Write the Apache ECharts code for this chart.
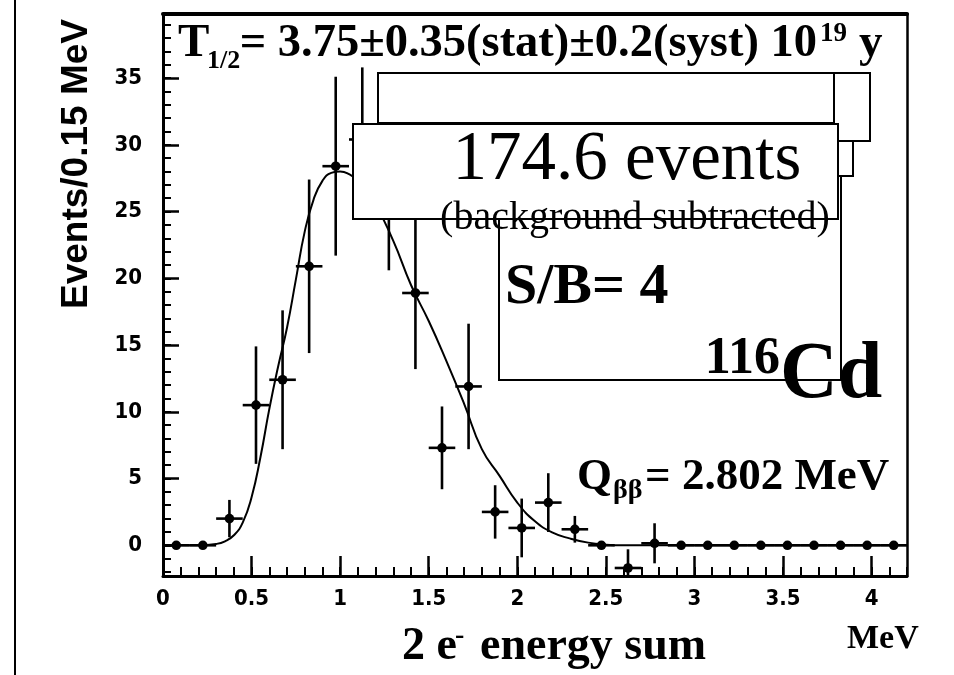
<!DOCTYPE html>
<html>
<head>
<meta charset="UTF-8">
<title>116Cd two-neutrino double beta spectrum</title>
<script src="https://cdn.jsdelivr.net/npm/echarts@6/dist/echarts.min.js"></script>
<style>
    html, body { margin: 0; padding: 0; background: #fff; }
    #chart { width: 954px; height: 675px; }
</style>
</head>
<body>
<div id="chart"></div>
<script>
// measured points: bin centres (MeV), events per 0.15 MeV, stat. errors
const binCenters = [0.075, 0.225, 0.375, 0.525, 0.675, 0.825, 0.975, 1.125, 1.275, 1.425,
                    1.575, 1.725, 1.875, 2.025, 2.175, 2.325, 2.475, 2.625, 2.775, 2.925,
                    3.075, 3.225, 3.375, 3.525, 3.675, 3.825, 3.975, 4.125];
const counts = [0, 0, 2.0, 10.5, 12.4, 20.9, 28.4, 30.4, 25.8, 18.9,
                7.3, 11.9, 2.5, 1.3, 3.2, 1.2, 0, -1.7, 0.15, 0,
                0, 0, 0, 0, 0, 0, 0, 0];
const countErrors = [0, 0, 1.4, 4.4, 5.2, 6.5, 6.7, 5.4, 5.2, 5.7,
                     3.1, 4.7, 2.0, 2.2, 2.2, 1.0, 0, 1.4, 1.5, 0,
                     0, 0, 0, 0, 0, 0, 0, 0];
const binHalfWidth = 0.075;

// fitted 2nu2beta shape
const fitEnergy = [0, 0.1, 0.2, 0.3, 0.35, 0.4, 0.45, 0.5, 0.55, 0.6,
                   0.65, 0.7, 0.75, 0.8, 0.85, 0.9, 0.95, 1.0, 1.05, 1.1,
                   1.2, 1.3, 1.4, 1.5, 1.6, 1.7, 1.8, 1.9, 2.0, 2.1,
                   2.2, 2.3, 2.4, 2.5, 2.6, 3.0, 3.5, 4.0, 4.2];
const fitCounts = [0, 0, 0, 0.1, 0.3, 0.75, 1.7, 3.6, 6.6, 10.2,
                   13.4, 16.3, 19.9, 23.5, 25.9, 27.3, 27.9, 28.0, 27.8, 27.3,
                   25.5, 22.8, 19.5, 16.8, 13.8, 10.6, 7.2, 5.2, 3.2, 1.8,
                   0.95, 0.5, 0.2, 0.05, 0, 0, 0, 0, 0];

// axis ticks
const xMajorTicks = [0, 0.5, 1, 1.5, 2, 2.5, 3, 3.5, 4];
const xMinorTicks = [0, 0.1, 0.2, 0.3, 0.4, 0.5, 0.6, 0.7, 0.8, 0.9, 1, 1.1, 1.2, 1.3, 1.4,
                     1.5, 1.6, 1.7, 1.8, 1.9, 2, 2.1, 2.2, 2.3, 2.4, 2.5, 2.6, 2.7, 2.8, 2.9,
                     3, 3.1, 3.2, 3.3, 3.4, 3.5, 3.6, 3.7, 3.8, 3.9, 4, 4.1, 4.2];
const yMajorTicks = [0, 5, 10, 15, 20, 25, 30, 35];
const yMinorTicks = [-2, -1, 0, 1, 2, 3, 4, 5, 6, 7, 8, 9, 10, 11, 12, 13, 14, 15, 16, 17,
                     18, 19, 20, 21, 22, 23, 24, 25, 26, 27, 28, 29, 30, 31, 32, 33, 34,
                     35, 36, 37, 38, 39];

const serif = '"Liberation Serif", "Times New Roman", serif';
const narrow = '"Liberation Sans Narrow", "DejaVu Sans Condensed", sans-serif';
const sans = '"Liberation Sans", Arial, sans-serif';

const chart = echarts.init(document.getElementById('chart'), null, { renderer: 'canvas' });

const points = binCenters.map((x, i) => [x, counts[i], countErrors[i]]);
const fitLine = fitEnergy.map((x, i) => [x, fitCounts[i]]);

function renderPoint(params, api) {
    const x = api.value(0), y = api.value(1), e = api.value(2);
    const c = api.coord([x, y]);
    const top = api.coord([x, y + e]);
    const bot = api.coord([x, y - e]);
    const l = api.coord([x - binHalfWidth, y]);
    const r = api.coord([x + binHalfWidth, y]);
    const st = { stroke: '#000', lineWidth: 2.6 };
    const kids = [];
    if (e > 0) {
        kids.push({ type: 'line', shape: { x1: c[0], y1: top[1], x2: c[0], y2: bot[1] }, style: st });
    }
    kids.push({ type: 'line', shape: { x1: l[0], y1: c[1], x2: r[0], y2: c[1] }, style: st });
    kids.push({ type: 'circle', shape: { cx: c[0], cy: c[1], r: 4.8 }, style: { fill: '#000' } });
    return { type: 'group', children: kids };
}

const xMin = 0, xMax = 4.2, yMin = -2.3, yMax = 39.8;

const box = { stroke: '#000', lineWidth: 2, fill: null };
const tickLabel = { color: '#000', fontFamily: narrow, fontWeight: 'bold', fontSize: 22 };

const option = {
    animation: false,
    backgroundColor: '#fff',
    grid: { left: 163, top: 14, width: 744, height: 562, show: false },
    xAxis: [
        {
            type: 'value', min: xMin, max: xMax, position: 'bottom',
            axisLine: { onZero: false, lineStyle: { color: '#000', width: 3 } },
            axisTick: { inside: true, length: 20, customValues: xMajorTicks, lineStyle: { color: '#000', width: 2.5 } },
            axisLabel: Object.assign({ customValues: xMajorTicks, margin: 12 }, tickLabel),
            splitLine: { show: false }
        },
        {
            type: 'value', min: xMin, max: xMax, position: 'bottom',
            axisLine: { show: false, onZero: false },
            axisTick: { inside: true, length: 9, customValues: xMinorTicks, lineStyle: { color: '#000', width: 2 } },
            axisLabel: { show: false },
            splitLine: { show: false }
        },
        {
            type: 'value', min: xMin, max: xMax, position: 'top',
            axisLine: { onZero: false, lineStyle: { color: '#000', width: 4 } },
            axisTick: { show: false }, axisLabel: { show: false }, splitLine: { show: false }
        }
    ],
    yAxis: [
        {
            type: 'value', min: yMin, max: yMax, position: 'left',
            axisLine: { show: true, onZero: false, lineStyle: { color: '#000', width: 3 } },
            axisTick: { show: true, inside: true, length: 16, customValues: yMajorTicks, lineStyle: { color: '#000', width: 2.5 } },
            axisLabel: Object.assign({ customValues: yMajorTicks, margin: 21 }, tickLabel),
            splitLine: { show: false }
        },
        {
            type: 'value', min: yMin, max: yMax, position: 'left',
            axisLine: { show: false, onZero: false },
            axisTick: { show: true, inside: true, length: 8, customValues: yMinorTicks, lineStyle: { color: '#000', width: 2 } },
            axisLabel: { show: false },
            splitLine: { show: false }
        },
        {
            type: 'value', min: yMin, max: yMax, position: 'right',
            axisLine: { show: true, onZero: false, lineStyle: { color: '#000', width: 2.5 } },
            axisTick: { show: false }, axisLabel: { show: false }, splitLine: { show: false }
        }
    ],
    series: [
        {
            name: 'fit', type: 'line', data: fitLine, xAxisIndex: 0, yAxisIndex: 0,
            showSymbol: false, smooth: 0.5,
            lineStyle: { color: '#000', width: 2 }, z: 2
        },
        {
            name: 'data', type: 'custom', data: points, xAxisIndex: 0, yAxisIndex: 0,
            renderItem: renderPoint, clip: true, z: 3
        }
    ],
    graphic: [
        // page edge line
        { type: 'line', z: 20, shape: { x1: 15, y1: 0, x2: 15, y2: 675 }, style: { stroke: '#000', lineWidth: 2 } },
        // leftover frames of the original drawing
        { type: 'rect', z: 20, shape: { x: 378, y: 73, width: 456, height: 50 }, style: box },
        { type: 'rect', z: 20, shape: { x: 834, y: 73, width: 36, height: 68 }, style: box },
        { type: 'rect', z: 20, shape: { x: 838, y: 141, width: 15, height: 35 }, style: box },
        { type: 'polyline', z: 20, shape: { points: [[841, 176], [841, 380], [499, 380], [499, 219]] }, style: box },
        { type: 'rect', z: 21, shape: { x: 353, y: 124, width: 485, height: 95 },
          style: { stroke: '#000', lineWidth: 2, fill: '#fff' } },

        // half-life line
        { type: 'text', z: 30, x: 178, y: 44, style: { text: 'T', font: 'bold 47px ' + serif, fill: '#000', textVerticalAlign: 'middle' } },
        { type: 'text', z: 30, x: 207, y: 61, style: { text: '1/2', font: 'bold 26px ' + serif, fill: '#000', textVerticalAlign: 'middle' } },
        { type: 'text', z: 30, x: 817, y: 44, style: { text: '= 3.75\u00b10.35(stat)\u00b10.2(syst) 10', font: 'bold 46.5px ' + serif, fill: '#000', textAlign: 'right', textVerticalAlign: 'middle' } },
        { type: 'text', z: 30, x: 820, y: 34, style: { text: '19', font: 'bold 27px ' + serif, fill: '#000', textVerticalAlign: 'middle' } },
        { type: 'text', z: 30, x: 859, y: 44, style: { text: 'y', font: 'bold 47px ' + serif, fill: '#000', textVerticalAlign: 'middle' } },

        { type: 'text', z: 30, x: 627, y: 161, style: { text: '174.6 events', font: '69px ' + serif, fill: '#000', textAlign: 'center', textVerticalAlign: 'middle' } },
        { type: 'text', z: 30, x: 635, y: 218, style: { text: '(background subtracted)', font: '40px ' + serif, fill: '#000', textAlign: 'center', textVerticalAlign: 'middle' } },
        { type: 'text', z: 30, x: 505, y: 288, style: { text: 'S/B= 4', font: 'bold 58px ' + serif, fill: '#000', textVerticalAlign: 'middle' } },

        { type: 'text', z: 30, x: 780, y: 360, style: { text: '116', font: 'bold 52px ' + serif, fill: '#000', textAlign: 'right', textVerticalAlign: 'middle' } },
        { type: 'text', z: 30, x: 780, y: 376, style: { text: 'Cd', font: 'bold 80px ' + serif, fill: '#000', textVerticalAlign: 'middle' } },

        { type: 'text', z: 30, x: 577, y: 477, style: { text: 'Q', font: 'bold 45px ' + serif, fill: '#000', textVerticalAlign: 'middle' } },
        { type: 'text', z: 30, x: 613, y: 491, style: { text: '\u03b2\u03b2', font: 'bold 28px ' + serif, fill: '#000', textVerticalAlign: 'middle' } },
        { type: 'text', z: 30, x: 645, y: 477, style: { text: '= 2.802 MeV', font: 'bold 45px ' + serif, fill: '#000', textVerticalAlign: 'middle' } },

        // axis titles
        { type: 'text', z: 30, x: 77, y: 164, rotation: Math.PI / 2,
          style: { text: 'Events/0.15 MeV', font: 'bold 37px ' + sans, fill: '#000', textAlign: 'center', textVerticalAlign: 'middle' } },
        { type: 'text', z: 30, x: 402, y: 647, style: { text: '2 e', font: 'bold 46px ' + serif, fill: '#000', textVerticalAlign: 'middle' } },
        { type: 'text', z: 30, x: 455, y: 636, style: { text: '-', font: 'bold 28px ' + serif, fill: '#000', textVerticalAlign: 'middle' } },
        { type: 'text', z: 30, x: 480, y: 647, style: { text: 'energy sum', font: 'bold 46px ' + serif, fill: '#000', textVerticalAlign: 'middle' } },
        { type: 'text', z: 30, x: 847, y: 639, style: { text: 'MeV', font: 'bold 34px ' + serif, fill: '#000', textVerticalAlign: 'middle' } }
    ]
};

chart.setOption(option);
</script>
</body>
</html>
